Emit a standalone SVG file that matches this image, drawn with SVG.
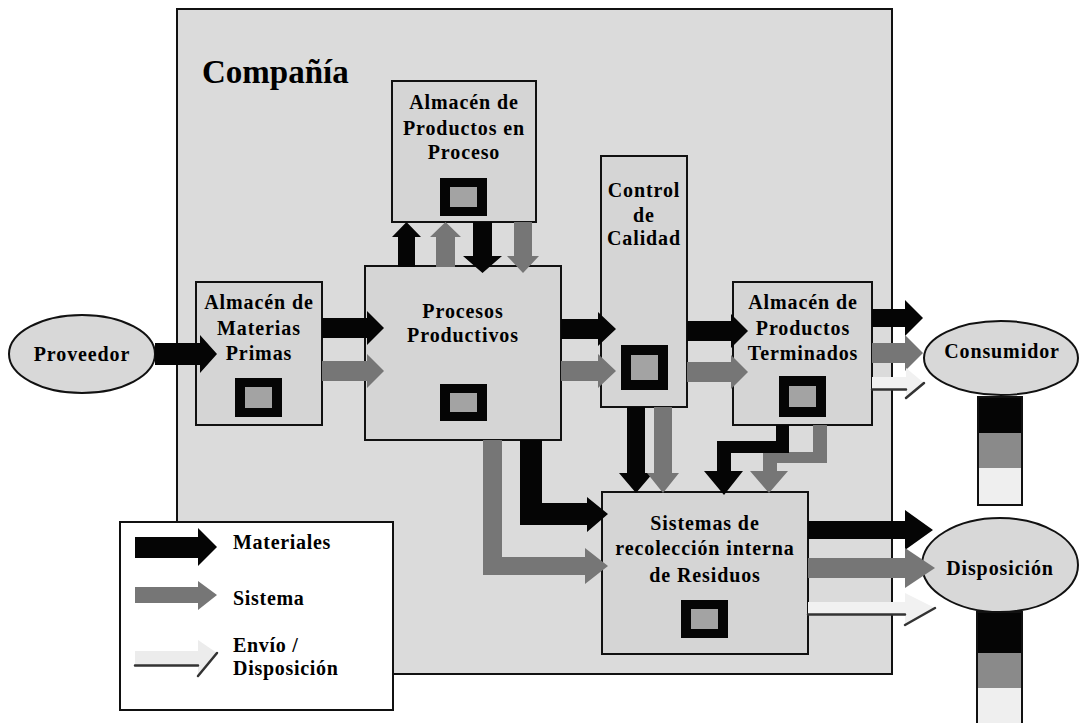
<svg xmlns="http://www.w3.org/2000/svg" width="1080" height="723" viewBox="0 0 1080 723">
  <defs>
    <style>
      .area { fill: #dbdbdb; stroke: #111; stroke-width: 2; }
      .box { fill: #d5d5d5; stroke: #111; stroke-width: 2; }
      .oval { fill: #d8d8d8; stroke: #111; stroke-width: 2; }
      .lbl { font-family: "Liberation Serif", "Times New Roman", serif; font-weight: bold; font-size: 20px; letter-spacing: 0.9px; fill: #000; text-anchor: middle; }
      .leg { font-family: "Liberation Serif", "Times New Roman", serif; font-weight: bold; font-size: 20px; letter-spacing: 0.7px; fill: #000; }
      .title { font-family: "Liberation Serif", "Times New Roman", serif; font-weight: bold; font-size: 33px; fill: #000; }
      .icon-out { fill: #050505; }
      .icon-in { fill: #a3a3a3; }
      .mat { fill: #050505; }
      .sys { fill: #767676; }
      .env { fill: #f1f1f1; }
      .env-edge { fill: none; stroke: #333; stroke-width: 2.5; stroke-linecap: round; }
    </style>
  </defs>

  <rect width="1080" height="723" fill="#fff"/>

  <!-- company boundary -->
  <g id="compania">
    <rect class="area" x="177" y="9" width="715" height="665"/>
    <text class="title" x="202" y="83">Compañía</text>
  </g>

  <!-- outside parties -->
  <g id="proveedor">
    <ellipse class="oval" cx="82" cy="354" rx="73" ry="39"/>
    <text class="lbl" x="82" y="361">Proveedor</text>
  </g>

  <g id="consumidor">
    <ellipse class="oval" cx="1001" cy="358" rx="77" ry="37"/>
    <text class="lbl" x="1002" y="358">Consumidor</text>
    <rect x="978" y="397" width="44" height="36" fill="#050505"/>
    <rect x="978" y="433" width="44" height="35" fill="#8a8a8a"/>
    <rect x="978" y="468" width="44" height="37" fill="#efefef"/>
    <rect x="978" y="397" width="44" height="108" fill="none" stroke="#111" stroke-width="2"/>
  </g>

  <g id="disposicion">
    <ellipse class="oval" cx="1000" cy="565" rx="78" ry="47"/>
    <text class="lbl" x="1000" y="575">Disposición</text>
    <rect x="977" y="612" width="45" height="41" fill="#050505"/>
    <rect x="977" y="653" width="45" height="35" fill="#8a8a8a"/>
    <rect x="977" y="688" width="45" height="40" fill="#efefef"/>
    <rect x="977" y="612" width="45" height="120" fill="none" stroke="#111" stroke-width="2"/>
  </g>

  <!-- internal areas -->
  <g id="almacen-proceso">
    <rect class="box" x="392" y="81" width="144" height="141"/>
    <text class="lbl" x="464" y="109">Almacén de</text>
    <text class="lbl" x="464" y="135">Productos en</text>
    <text class="lbl" x="464" y="159">Proceso</text>
    <rect class="icon-out" x="440" y="178" width="47" height="38"/>
    <rect class="icon-in" x="450" y="187" width="27" height="20"/>
  </g>

  <g id="almacen-materias">
    <rect class="box" x="196" y="282" width="126" height="143"/>
    <text class="lbl" x="259" y="309">Almacén de</text>
    <text class="lbl" x="259" y="335">Materias</text>
    <text class="lbl" x="259" y="360">Primas</text>
    <rect class="icon-out" x="235" y="378" width="47" height="39"/>
    <rect class="icon-in" x="245" y="387" width="27" height="21"/>
  </g>

  <g id="procesos">
    <rect class="box" x="365" y="266" width="196" height="174"/>
    <text class="lbl" x="463" y="318">Procesos</text>
    <text class="lbl" x="463" y="342">Productivos</text>
    <rect class="icon-out" x="440" y="384" width="47" height="37"/>
    <rect class="icon-in" x="450" y="393" width="27" height="19"/>
  </g>

  <g id="control">
    <rect class="box" x="601" y="156" width="86" height="251"/>
    <text class="lbl" x="644" y="197">Control</text>
    <text class="lbl" x="644" y="222">de</text>
    <text class="lbl" x="644" y="245">Calidad</text>
    <rect class="icon-out" x="621" y="345" width="47" height="45"/>
    <rect class="icon-in" x="631" y="355" width="27" height="25"/>
  </g>

  <g id="almacen-terminados">
    <rect class="box" x="733" y="282" width="139" height="143"/>
    <text class="lbl" x="803" y="309">Almacén de</text>
    <text class="lbl" x="803" y="335">Productos</text>
    <text class="lbl" x="803" y="360">Terminados</text>
    <rect class="icon-out" x="779" y="376" width="47" height="41"/>
    <rect class="icon-in" x="789" y="386" width="27" height="21"/>
  </g>

  <g id="residuos">
    <rect class="box" x="602" y="492" width="206" height="162"/>
    <text class="lbl" x="705" y="530">Sistemas de</text>
    <text class="lbl" x="705" y="555">recolección interna</text>
    <text class="lbl" x="705" y="582">de Residuos</text>
    <rect class="icon-out" x="681" y="600" width="47" height="38"/>
    <rect class="icon-in" x="691" y="609" width="27" height="20"/>
  </g>

  <!-- flows: black = materials, grey = system, pale = shipping / disposal -->
  <g id="conectores">
    <!-- supplier to raw materials -->
    <polygon class="mat" points="155,343 200,343 200,335 217,354 200,373 200,365 155,365"/>

    <!-- raw materials to production -->
    <polygon class="mat" points="322,318 367,318 367,311 384,328 367,345 367,338 322,338"/>
    <polygon class="sys" points="322,361 367,361 367,354 384,371 367,388 367,381 322,381"/>

    <!-- production to quality control -->
    <polygon class="mat" points="561,319 598,319 598,312 616,329 598,346 598,339 561,339"/>
    <polygon class="sys" points="561,361 598,361 598,354 616,371 598,388 598,381 561,381"/>

    <!-- quality control to finished goods -->
    <polygon class="mat" points="687,321 731,321 731,314 748,331 731,348 731,341 687,341"/>
    <polygon class="sys" points="687,362 731,362 731,355 748,372 731,389 731,382 687,382"/>

    <!-- finished goods to consumer -->
    <polygon class="mat" points="872,309 905,309 905,300 923,318 905,336 905,327 872,327"/>
    <polygon class="sys" points="872,343 905,343 905,335 923,353 905,371 905,363 872,363"/>
    <polygon class="env" points="872,377 906,377 906,368 924,383 906,398 906,389 872,389"/>
    <path class="env-edge" d="M872,389.5 H906 M906,398 L924,383"/>

    <!-- production <-> work-in-process storage -->
    <polygon class="mat" points="398,267 398,237 392,237 406.5,222 421,237 415,237 415,267"/>
    <polygon class="sys" points="436,267 436,237 430,237 445.5,222 461,237 455,237 455,267"/>
    <polygon class="mat" points="473,222 492,222 492,256 502,256 482.5,273 463,256 473,256"/>
    <polygon class="sys" points="514,222 532,222 532,256 539,256 523,273 507,256 514,256"/>

    <!-- quality control to waste collection -->
    <polygon class="mat" points="627,407 645,407 645,473 653,473 636,493 619,473 627,473"/>
    <polygon class="sys" points="654,407 672,407 672,473 679,473 663,493 647,473 654,473"/>

    <!-- finished goods to waste collection -->
    <polygon class="sys" points="813,425 827,425 827,463 777,463 777,471 788,471 769,493 750,471 763,471 763,452 813,452"/>
    <polygon class="mat" points="776,425 789,425 789,453 731,453 731,471 743,471 724,495 704,471 717,471 717,441 776,441"/>

    <!-- production to waste collection -->
    <polygon class="sys" points="483,440 502,440 502,557 585,557 585,548 608,566 585,584 585,575 483,575"/>
    <polygon class="mat" points="520,440 542,440 542,503 587,503 587,497 608,514 587,532 587,525 520,525"/>

    <!-- waste collection to disposal -->
    <polygon class="mat" points="808,521 905,521 905,510 933,530 905,550 905,539 808,539"/>
    <polygon class="sys" points="808,558 905,558 905,548 935,568 905,588 905,578 808,578"/>
    <polygon class="env" points="808,602 905,602 905,593 935,608 905,625 905,614 808,614"/>
    <path class="env-edge" d="M808,614.5 H905 M905,625 L935,608"/>
  </g>

  <!-- legend -->
  <g id="leyenda">
    <rect x="120" y="522" width="273" height="188" fill="#fff" stroke="#111" stroke-width="2"/>
    <polygon class="mat" points="135,537 198,537 198,528 217,547 198,566 198,558 135,558"/>
    <text class="leg" x="233" y="549">Materiales</text>
    <polygon class="sys" points="135,587 198,587 198,581 217,595 198,610 198,603 135,603"/>
    <text class="leg" x="233" y="605">Sistema</text>
    <polygon points="135,651 198,651 198,640 217,653 198,676 198,665 135,665" fill="#ececec"/>
    <path class="env-edge" d="M135,665.5 H198 M198,676 L217,653"/>
    <text class="leg" x="233" y="652">Envío /</text>
    <text class="leg" x="233" y="675">Disposición</text>
  </g>
</svg>
